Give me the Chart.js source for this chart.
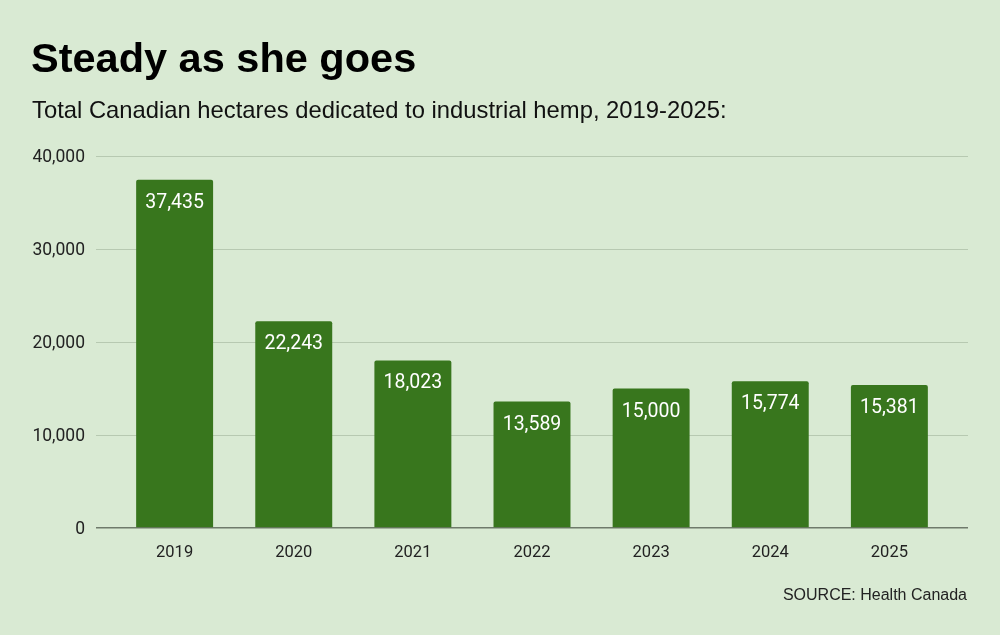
<!DOCTYPE html>
<html>
<head>
<meta charset="utf-8">
<script src="https://cdn.jsdelivr.net/npm/chart.js@4"></script>
<style>
  html,body{margin:0;padding:0;background:#d9ead3;}
  #wrap{position:relative;width:1000px;height:635px;}
  canvas{display:block;}
</style>
</head>
<body>
<div id="wrap"><canvas id="c" width="1000" height="635"></canvas></div>
<script>
const titleText = "Steady as she goes";
const subtitleText = "Total Canadian hectares dedicated to industrial hemp, 2019-2025:";
const sourceText = "SOURCE: Health Canada";
const categories = ["2019","2020","2021","2022","2023","2024","2025"];
const hectares = [37435, 22243, 18023, 13589, 15000, 15774, 15381];
const yTicks = [0, 10000, 20000, 30000, 40000];

const fmt = v => Number(v).toLocaleString('en-US');

const textPlugin = {
  id: 'texts',
  afterDraw(chart) {
    const ctx = chart.ctx;
    ctx.save();
    ctx.fillStyle = '#000';
    ctx.textAlign = 'left';
    ctx.textBaseline = 'alphabetic';
    ctx.font = 'bold 41.5px "Liberation Sans", Arial, sans-serif';
    ctx.fillText(titleText, 31, 72);
    ctx.fillStyle = '#111';
    ctx.font = '23.8px "Liberation Sans", Arial, sans-serif';
    ctx.fillText(subtitleText, 32, 118);
    ctx.fillStyle = '#222';
    ctx.font = '16px "Liberation Sans", Arial, sans-serif';
    ctx.textAlign = 'right';
    ctx.fillText(sourceText, 967, 600);
    ctx.restore();
  }
};

const labelPlugin = {
  id: 'barLabels',
  afterDatasetsDraw(chart) {
    const ctx = chart.ctx;
    const meta = chart.getDatasetMeta(0);
    ctx.save();
    ctx.fillStyle = '#ffffff';
    ctx.font = '19.5px Roboto, sans-serif';
    ctx.textAlign = 'center';
    ctx.textBaseline = 'alphabetic';
    meta.data.forEach((bar, i) => {
      ctx.fillText(fmt(hectares[i]), bar.x, bar.y + 28);
    });
    ctx.restore();
  }
};

new Chart(document.getElementById('c'), {
  type: 'bar',
  data: {
    datasets: [{
      data: hectares.map((v, i) => ({x: i, y: v})),
      backgroundColor: '#38761d',
      borderRadius: 2,
      borderSkipped: 'bottom',
      barPercentage: 0.646,
      categoryPercentage: 1.0
    }]
  },
  options: {
    responsive: false,
    animation: false,
    layout: { padding: { top: 156, right: 32, left: 0, bottom: 0 } },
    plugins: { legend: { display: false }, tooltip: { enabled: false }, title: { display: false } },
    scales: {
      x: {
        type: 'linear',
        offset: false,
        min: -0.66,
        max: 6.66,
        afterFit(axis) { axis.height = 107; },
        afterBuildTicks(axis) { axis.ticks = categories.map((c, i) => ({value: i})); },
        grid: { display: false, offset: false },
        border: { display: false },
        ticks: {
          callback: (v) => categories[v] ?? '',
          color: '#222',
          font: { family: 'Roboto', size: 16.5 },
          padding: 7,
          maxRotation: 0,
          autoSkip: false
        }
      },
      y: {
        min: 0,
        max: 40000,
        afterFit(axis) { axis.width = 96; },
        afterBuildTicks(axis) { axis.ticks = yTicks.map(v => ({value: v})); },
        border: { display: false },
        grid: {
          drawTicks: false,
          color: (c) => c.tick && c.tick.value === 0 ? '#6f7a6b' : '#b7c9b1',
          lineWidth: (c) => c.tick && c.tick.value === 0 ? 1.5 : 1
        },
        ticks: {
          callback: (v) => fmt(v),
          color: '#222',
          font: { family: 'Roboto', size: 17.5 },
          padding: 11,
          labelOffset: 2
        }
      }
    }
  },
  plugins: [labelPlugin, textPlugin]
});
</script>
</body>
</html>
